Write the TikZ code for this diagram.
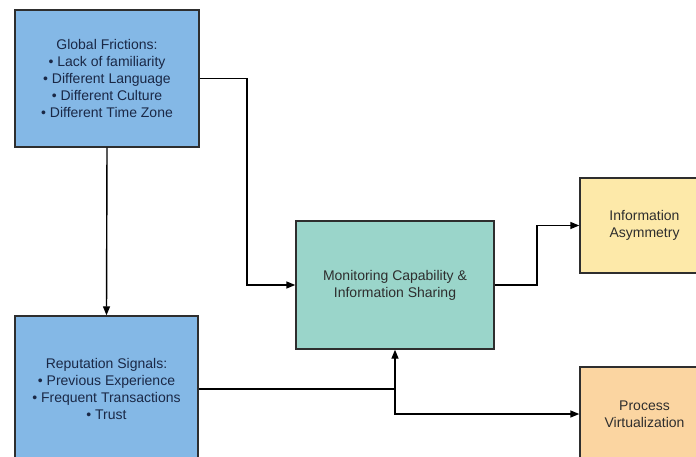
\documentclass[tikz,border=0pt]{standalone}
\usepackage{fontspec}
\setmainfont{Liberation Sans}
\usetikzlibrary{arrows.meta}
\definecolor{bluefill}{HTML}{84B8E6}
\definecolor{tealfill}{HTML}{9AD5CA}
\definecolor{yellowfill}{HTML}{FDE9A9}
\definecolor{orangefill}{HTML}{FBD5A1}
\definecolor{edgecol}{HTML}{2E2E2E}
\definecolor{navytext}{HTML}{1A2846}
\definecolor{graytext}{HTML}{2E2E2E}
\begin{document}
\begin{tikzpicture}[x=1pt,y=-1pt,
  box/.style={draw=edgecol,line width=1.4pt,rectangle,align=center,inner sep=0pt,
    font=\fontsize{14}{16.9}\selectfont},
  bluebox/.style={box,fill=bluefill,text=navytext},
  conn/.style={draw=black,line width=1.4pt},
  arr/.style={conn,-{Triangle[length=9pt,width=7pt]}}]
\fill[white] (0,0) rectangle (696,457);
\useasboundingbox (0,0) rectangle (696,457);
\clip (0,0) rectangle (696,457);
\node[bluebox,minimum width=184pt,minimum height=137pt] (gf) at (107,78.5)
  {Global Frictions:\\ • Lack of familiarity\\ • Different Language\\ • Different Culture\\ • Different Time Zone};
\node[bluebox,minimum width=183pt,minimum height=146pt] (rep) at (106.5,389)
  {Reputation Signals:\\ • Previous Experience\\ • Frequent Transactions\\ • Trust};
\node[box,fill=tealfill,text=graytext,minimum width=198pt,minimum height=128pt] (mon) at (395,285)
  {Monitoring Capability \&\\ Information Sharing};
\node[box,fill=yellowfill,text=graytext,minimum width=129pt,minimum height=95pt] (ia) at (644.5,225.5)
  {Information\\ Asymmetry};
\node[box,fill=orangefill,text=graytext,minimum width=129pt,minimum height=94pt] (pv) at (644.5,414)
  {Process\\ Virtualization};
\coordinate (c1) at (247,285);
\coordinate (c2) at (537,285);
\coordinate (j) at (395,389);
\draw[arr] (gf.east) -| (c1) -- (mon.west);
\draw[arr] (gf.south) -- (rep.north);
\draw[arr] (rep.east) -| (mon.south);
\draw[arr] (j) |- (pv.west);
\draw[arr] (mon.east) -- (c2) |- (ia.west);
\end{tikzpicture}
\end{document}
